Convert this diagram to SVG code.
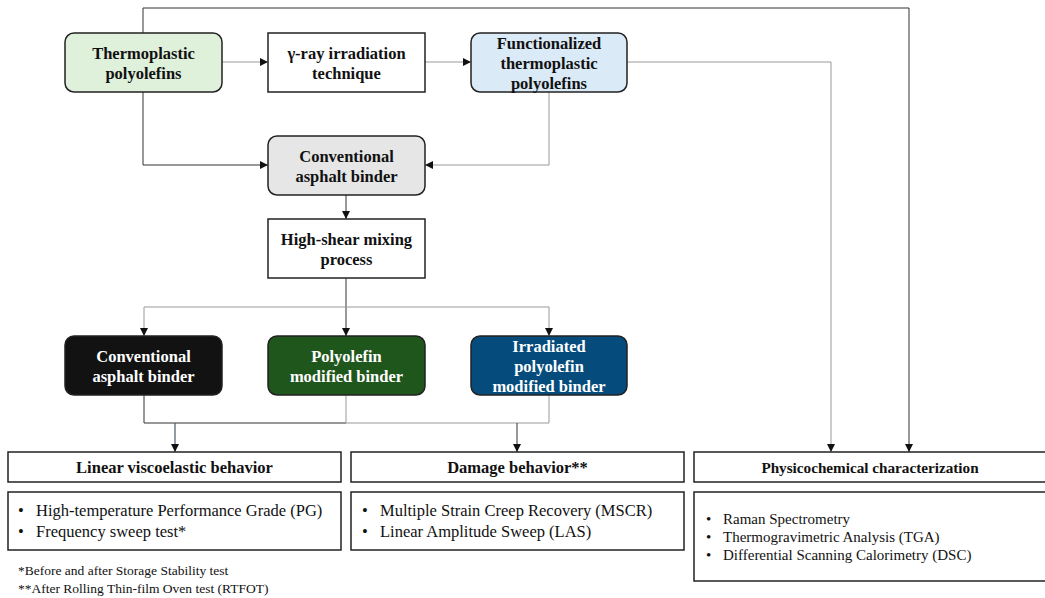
<svg xmlns="http://www.w3.org/2000/svg" width="1045" height="598" viewBox="0 0 1045 598">
<defs>
<marker id="ah" viewBox="0 0 10 10" refX="10" refY="5" markerWidth="8" markerHeight="8" markerUnits="userSpaceOnUse" orient="auto">
<path d="M0,0 L10,5 L0,10 z" fill="#111"/>
</marker>
</defs>
<style>
text{font-family:'Liberation Serif','DejaVu Serif',serif}
.n{stroke:#222;stroke-width:1.5}
.t{font-weight:bold;font-size:16.5px;text-anchor:middle;fill:#111}
.w{fill:#fff}
.h{font-weight:bold;font-size:16.5px;text-anchor:middle;fill:#111}
.l{font-size:16.5px;fill:#111}
.p{font-size:15px;fill:#111}
.f{font-size:13.5px;fill:#111}
.c{fill:none;stroke:#333;stroke-width:1}
.g{fill:none;stroke:#999;stroke-width:1}
.b{fill:none;stroke:#4a5a70;stroke-width:1.2}
</style>
<g id="connectors">
<path class="c" d="M143,33 V8 H909 V452" marker-end="url(#ah)"/>
<path class="g" d="M222,62 H268" marker-end="url(#ah)"/>
<path class="g" d="M425,62 H471" marker-end="url(#ah)"/>
<path class="g" d="M627,62 H831 V452" marker-end="url(#ah)"/>
<path class="c" d="M143,92 V165 H268" marker-end="url(#ah)"/>
<path class="g" d="M549,92 V165 H425" marker-end="url(#ah)"/>
<path class="c" d="M346,195 V219" marker-end="url(#ah)"/>
<path class="c" d="M346,278 V336" marker-end="url(#ah)"/>
<path class="g" d="M346,307 H144 V336" marker-end="url(#ah)"/>
<path class="g" d="M346,307 H549 V336" marker-end="url(#ah)"/>
<path class="c" d="M144,395 V423 H346"/>
<path class="g" d="M346,395 V423"/>
<path class="g" d="M549,395 V423 H346"/>
<path class="b" d="M175,423 V452" marker-end="url(#ah)"/>
<path class="c" d="M517,423 V452" marker-end="url(#ah)"/>
</g>
<g id="thermoplastic">
<rect class="n" x="65" y="33" width="157" height="59" rx="9" fill="#dff0db"/>
<text class="t" x="143.5" y="59">Thermoplastic</text>
<text class="t" x="143.5" y="79">polyolefins</text>
</g>
<g id="gamma">
<rect class="n" x="268" y="33" width="157" height="59" fill="#fff"/>
<text class="t" x="346.5" y="59">γ-ray irradiation</text>
<text class="t" x="346.5" y="79">technique</text>
</g>
<g id="functionalized">
<rect class="n" x="471" y="33" width="156" height="59" rx="9" fill="#dbeaf7"/>
<text class="t" x="549" y="49">Functionalized</text>
<text class="t" x="549" y="69">thermoplastic</text>
<text class="t" x="549" y="89">polyolefins</text>
</g>
<g id="conv-binder">
<rect class="n" x="268" y="136" width="157" height="59" rx="9" fill="#e6e6e6"/>
<text class="t" x="346.5" y="162">Conventional</text>
<text class="t" x="346.5" y="182">asphalt binder</text>
</g>
<g id="mixing">
<rect class="n" x="268" y="219" width="157" height="59" fill="#fff"/>
<text class="t" x="346.5" y="245">High-shear mixing</text>
<text class="t" x="346.5" y="265">process</text>
</g>
<g id="conv-black">
<rect class="n" x="65" y="336" width="157" height="59" rx="9" fill="#121212"/>
<text class="t w" x="143.5" y="362">Conventional</text>
<text class="t w" x="143.5" y="382">asphalt binder</text>
</g>
<g id="polyolefin-modified">
<rect class="n" x="268" y="336" width="157" height="59" rx="9" fill="#1f561c"/>
<text class="t w" x="346.5" y="362">Polyolefin</text>
<text class="t w" x="346.5" y="382">modified binder</text>
</g>
<g id="irradiated-modified">
<rect class="n" x="471" y="336" width="156" height="59" rx="9" fill="#054c7d"/>
<text class="t w" x="549" y="352">Irradiated</text>
<text class="t w" x="549" y="372">polyolefin</text>
<text class="t w" x="549" y="392">modified binder</text>
</g>
<g id="linear">
<rect class="n" x="8" y="452" width="333" height="30" fill="#fff"/>
<text class="h" x="174.5" y="473">Linear viscoelastic behavior</text>
</g>
<g id="linear-list">
<rect class="n" x="8" y="492" width="333" height="58" fill="#fff"/>
<text class="l" x="18" y="516">•</text>
<text class="l" x="36" y="516">High-temperature Performance Grade (PG)</text>
<text class="l" x="18" y="537">•</text>
<text class="l" x="36" y="537">Frequency sweep test*</text>
</g>
<g id="damage">
<rect class="n" x="351" y="452" width="333" height="30" fill="#fff"/>
<text class="h" x="517.5" y="473">Damage behavior**</text>
</g>
<g id="damage-list">
<rect class="n" x="351" y="492" width="333" height="58" fill="#fff"/>
<text class="l" x="362" y="516">•</text>
<text class="l" x="380" y="516">Multiple Strain Creep Recovery (MSCR)</text>
<text class="l" x="362" y="537">•</text>
<text class="l" x="380" y="537">Linear Amplitude Sweep (LAS)</text>
</g>
<g id="physico">
<rect class="n" x="694" y="452" width="355" height="30" fill="#fff"/>
<text class="h" x="870" y="473" style="font-size:15.2px">Physicochemical characterization</text>
</g>
<g id="physico-list">
<rect class="n" x="694" y="492" width="355" height="89" fill="#fff"/>
<text class="p" x="706" y="524">•</text>
<text class="p" x="723" y="524">Raman Spectrometry</text>
<text class="p" x="706" y="542">•</text>
<text class="p" x="723" y="542">Thermogravimetric Analysis (TGA)</text>
<text class="p" x="706" y="560">•</text>
<text class="p" x="723" y="560">Differential Scanning Calorimetry (DSC)</text>
</g>
<g id="footnotes">
<text class="f" x="18" y="575">*Before and after Storage Stability test</text>
<text class="f" x="18" y="593">**After Rolling Thin-film Oven test (RTFOT)</text>
</g>
</svg>
